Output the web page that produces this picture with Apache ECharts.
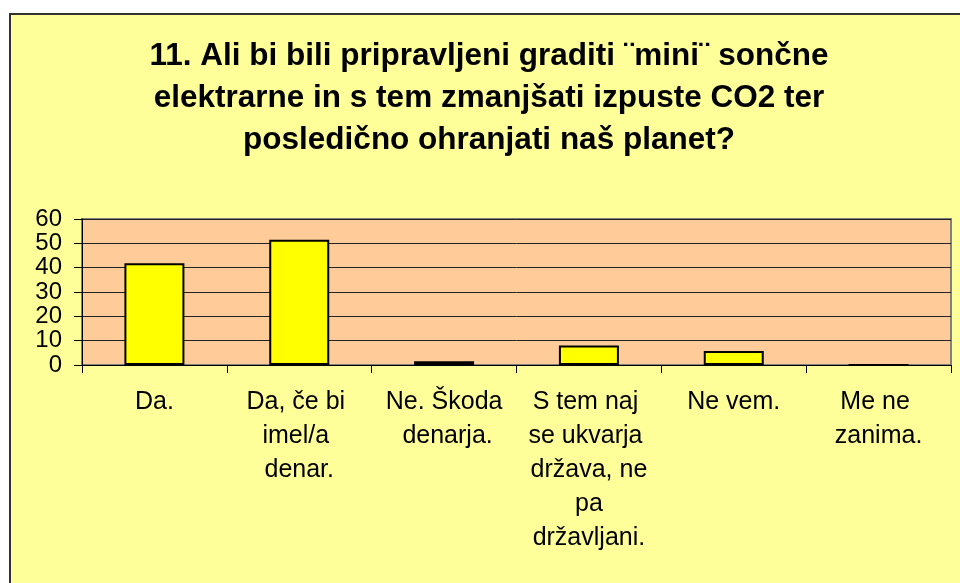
<!DOCTYPE html>
<html lang="sl">
<head>
    <meta charset="UTF-8">
    <title>Sončne elektrarne</title>
    <script src="https://cdn.jsdelivr.net/npm/echarts@6/dist/echarts.min.js"></script>
    <style>
        html, body { margin: 0; padding: 0; background: #ffffff; }
        #wrap { position: absolute; left: 0; top: 0; width: 960px; height: 583px; overflow: hidden; background: #ffffff; }
        #box { position: absolute; left: 9px; top: 13px; width: 980px; height: 600px; background: #ffff99; border: 2px solid #333333; box-sizing: border-box; }
        #main { position: absolute; left: 0; top: 0; width: 960px; height: 583px; }
    </style>
</head>
<body>
<div id="wrap">
    <div id="box"></div>
    <div id="main"></div>
</div>
<script>
    var titleText = '11. Ali bi bili pripravljeni graditi ¨mini¨ sončne\nelektrarne in s tem zmanjšati izpuste CO2 ter\nposledično ohranjati naš planet?';

    var categories = [
        'Da.',
        'Da, če bi imel/a denar.',
        'Ne. Škoda denarja.',
        'S tem naj se ukvarja država, ne pa državljani.',
        'Ne vem.',
        'Me ne zanima.'
    ];

    var values = [41.8, 51.5, 1.5, 8, 5.8, 0];

    var yTicks = { min: 0, max: 60, interval: 10 };

    var font = 'Liberation Sans, Arial, sans-serif';

    var myChart = echarts.init(document.getElementById('main'), null, { renderer: 'canvas' });

    var option = {
        backgroundColor: 'transparent',
        animation: false,
        title: {
            text: titleText,
            left: 489,
            top: 35,
            textAlign: 'center',
            padding: 0,
            textStyle: {
                fontFamily: font,
                fontSize: 31.5,
                fontWeight: 'bold',
                color: '#000000',
                lineHeight: 42
            }
        },
        grid: {
            left: 82,
            right: 9,
            top: 219,
            bottom: 218,
            show: true,
            backgroundColor: '#ffcc99',
            borderColor: '#808080',
            borderWidth: 2
        },
        xAxis: {
            type: 'category',
            data: categories,
            axisLine: { lineStyle: { color: '#000000', width: 1 } },
            axisTick: { show: true, length: 8, lineStyle: { color: '#000000' } },
            axisLabel: {
                interval: 0,
                margin: 20,
                fontFamily: font,
                fontSize: 25,
                color: '#000000',
                lineHeight: 34,
                width: 132,
                overflow: 'break',
                align: 'center'
            }
        },
        yAxis: {
            type: 'value',
            min: yTicks.min,
            max: yTicks.max,
            interval: yTicks.interval,
            axisLine: { show: true, lineStyle: { color: '#000000', width: 1 } },
            axisTick: { show: true, length: 8, lineStyle: { color: '#000000' } },
            axisLabel: {
                margin: 20,
                fontFamily: font,
                fontSize: 24,
                color: '#000000'
            },
            splitLine: { show: true, lineStyle: { color: '#222222', width: 1 } }
        },
        series: [{
            type: 'bar',
            data: values,
            barWidth: 60,
            itemStyle: {
                color: '#ffff00',
                borderColor: '#000000',
                borderWidth: 2
            }
        }]
    };

    myChart.setOption(option);
</script>
</body>
</html>
